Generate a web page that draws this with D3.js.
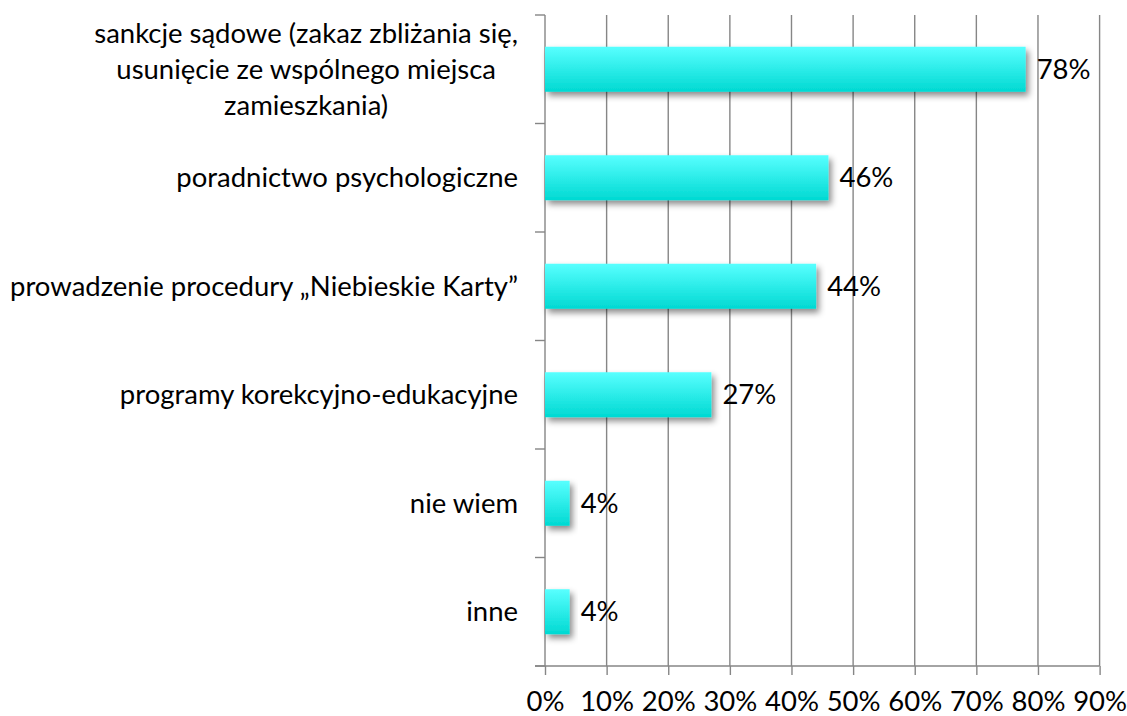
<!DOCTYPE html>
<html><head><meta charset="utf-8">
<script src="https://cdn.jsdelivr.net/npm/d3@7"></script>
<style>body{margin:0;background:#fff}svg{display:block}text{font-family:Lato,"Open Sans",sans-serif;fill:#000}</style>
</head><body>
<svg id="chart" width="1127" height="716"></svg>
<script>
const categories = [
  ["sankcje sądowe (zakaz zbliżania się,", "usunięcie ze wspólnego miejsca", "zamieszkania)"],
  ["poradnictwo psychologiczne"],
  ["prowadzenie procedury „Niebieskie Karty”"],
  ["programy korekcyjno-edukacyjne"],
  ["nie wiem"],
  ["inne"]
];
const values = [78, 46, 44, 27, 4, 4];
const tickValues = [0, 10, 20, 30, 40, 50, 60, 70, 80, 90];
const tickLabels = ["0%", "10%", "20%", "30%", "40%", "50%", "60%", "70%", "80%", "90%"];

(function () {
const svg = d3.select("#chart");
const pL = 545, pR = 1099.6, pT = 15, pB = 666;
const ids = categories.map((c, i) => "c" + i);

// fit font size so text width resembles the reference (Calibri 20pt)
const probe = svg.append("text").attr("font-size", 26.67).text("prowadzenie procedury „Niebieskie Karty”");
const w = probe.node().getComputedTextLength();
probe.remove();
const fs = 26.67 * 508 / w;

const x = d3.scaleLinear().domain([0, 90]).range([pL, pR]);
const y = d3.scaleBand().domain(ids).range([pT, pB]).paddingInner(0.585).paddingOuter(0.2925);

const defs = svg.append("defs");
const grad = defs.append("linearGradient").attr("id", "barGrad").attr("x1", 0).attr("y1", 0).attr("x2", 0).attr("y2", 1);
grad.append("stop").attr("offset", "0%").attr("stop-color", "#58FFFF");
grad.append("stop").attr("offset", "100%").attr("stop-color", "#00D9D2");
const f = defs.append("filter").attr("id", "shadow").attr("x", "-20%").attr("y", "-30%").attr("width", "150%").attr("height", "180%");
f.append("feDropShadow").attr("dx", 3).attr("dy", 4).attr("stdDeviation", 3).attr("flood-color", "#000").attr("flood-opacity", 0.45);

const gridColor = "#868686";
svg.append("g").selectAll("line").data(tickValues.slice(1)).join("line")
  .attr("x1", d => x(d)).attr("x2", d => x(d)).attr("y1", pT).attr("y2", pB)
  .attr("stroke", gridColor).attr("stroke-width", 1.4);

const xAxis = d3.axisBottom(x).tickValues(tickValues).tickFormat((d, i) => tickLabels[i]).tickSize(9).tickPadding(16);
const gx = svg.append("g").attr("transform", `translate(0,${pB})`).call(xAxis);
gx.select(".domain").attr("stroke", gridColor).attr("stroke-width", 1.4).attr("d", `M${pL - 10},0H${pR}`);
gx.selectAll(".tick line").attr("stroke", gridColor).attr("stroke-width", 1.4);
gx.selectAll(".tick text").attr("font-size", fs).attr("font-family", "Lato").attr("fill", "#000");

const gy = svg.append("g");
gy.append("line").attr("x1", pL).attr("x2", pL).attr("y1", pT).attr("y2", pB).attr("stroke", gridColor).attr("stroke-width", 1.4);
const bounds = ids.map((d, i) => pT + i * y.step());
bounds.push(pB);
gy.selectAll("line.t").data(bounds).join("line").attr("class", "t")
  .attr("x1", pL - 10).attr("x2", pL).attr("y1", d => d).attr("y2", d => d)
  .attr("stroke", gridColor).attr("stroke-width", 1.4);

svg.append("g").selectAll("rect").data(values).join("rect")
  .attr("x", pL).attr("y", (d, i) => y(ids[i]))
  .attr("width", d => x(d) - pL).attr("height", y.bandwidth())
  .attr("fill", "url(#barGrad)").attr("filter", "url(#shadow)");

svg.append("g").selectAll("text").data(values).join("text")
  .attr("x", d => x(d) + 11).attr("y", (d, i) => y(ids[i]) + y.bandwidth() / 2)
  .attr("dy", "0.35em").attr("font-size", fs).text(d => d + "%");

const labelRight = 518, lineH = 36;
categories.forEach((lines, i) => {
  const cy = y(ids[i]) + y.bandwidth() / 2;
  const g = svg.append("g");
  const texts = lines.map((t, j) => g.append("text").attr("font-size", fs)
    .attr("y", cy + (j - (lines.length - 1) / 2) * lineH).attr("dy", "0.35em").text(t));
  const maxW = d3.max(texts, t => t.node().getComputedTextLength());
  const cx = labelRight - maxW / 2;
  texts.forEach(t => t.attr("x", cx).attr("text-anchor", "middle"));
});
})();
</script>
</body></html>
